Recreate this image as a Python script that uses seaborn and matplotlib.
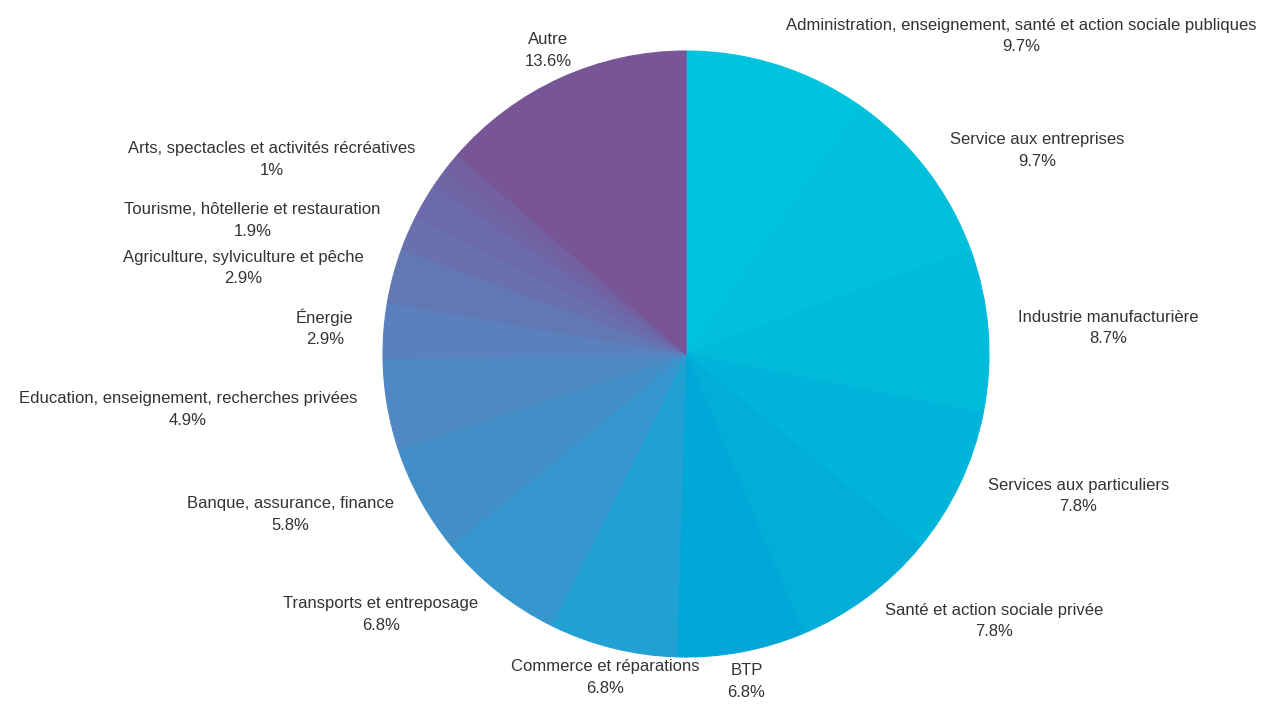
import numpy as np
import matplotlib
matplotlib.use("Agg")
import matplotlib.pyplot as plt
import seaborn as sns

# Répartition des emplois par secteur (en %)
secteurs = [
    "Administration, enseignement, santé et action sociale publiques",
    "Service aux entreprises",
    "Industrie manufacturière",
    "Services aux particuliers",
    "Santé et action sociale privée",
    "BTP",
    "Commerce et réparations",
    "Transports et entreposage",
    "Banque, assurance, finance",
    "Education, enseignement, recherches privées",
    "Énergie",
    "Agriculture, sylviculture et pêche",
    "Tourisme, hôtellerie et restauration",
    "",
    "Arts, spectacles et activités récréatives",
    "",
    "Autre",
]
parts = [9.7, 9.7, 8.7, 7.8, 7.8, 6.8, 6.8, 6.8, 5.8, 4.9,
         2.9, 2.9, 1.9, 1.9, 1.0, 1.0, 13.6]

sns.set_theme(style="white")
plt.rcParams["font.family"] = ["Liberation Sans", "DejaVu Sans"]

colors = [
    "#00C4DE", "#00C0DC", "#00BBDB", "#00B5D9", "#00AED8", "#00A7D7",
    "#21A0D3", "#3597CD", "#428FC8", "#4F88C4", "#5A81BE", "#6278B5",
    "#6A6FAE", "#6C6AAA", "#6F65A5", "#72609F", "#775597",
]

W, H = 1277, 709
cx, cy, r = 686, 354, 303
fig = plt.figure(figsize=(W / 100, H / 100), dpi=100)
fig.patch.set_facecolor("white")
ax = fig.add_axes([(cx - r) / W, (H - cy - r) / H, 2 * r / W, 2 * r / H])

wedges, _ = ax.pie(
    parts,
    colors=colors,
    startangle=90,
    counterclock=False,
    normalize=True,
    wedgeprops=dict(linewidth=0.8),
)
# edges in the wedge colour so neighbouring slices join without seams
for w in wedges:
    w.set_edgecolor(w.get_facecolor())
ax.set_xlim(-1, 1)
ax.set_ylim(-1, 1)
ax.set_aspect("equal")

centered = {"Autre", "BTP", "Commerce et réparations"}
label_r = 1.1
for w, name, val in zip(wedges, secteurs, parts):
    if not name:
        continue
    mid = np.deg2rad((w.theta1 + w.theta2) / 2)
    x, y = label_r * np.cos(mid), label_r * np.sin(mid)
    if name in centered:
        ha = "center"
    else:
        ha = "left" if x > 0 else "right"
    ax.text(x, y, f"{name}\n{val:g}%", ha=ha, va="center",
            multialignment="center", fontsize=12, color="#333333",
            linespacing=1.55, clip_on=False)

fig.savefig("out.png", dpi=100, facecolor="white")
